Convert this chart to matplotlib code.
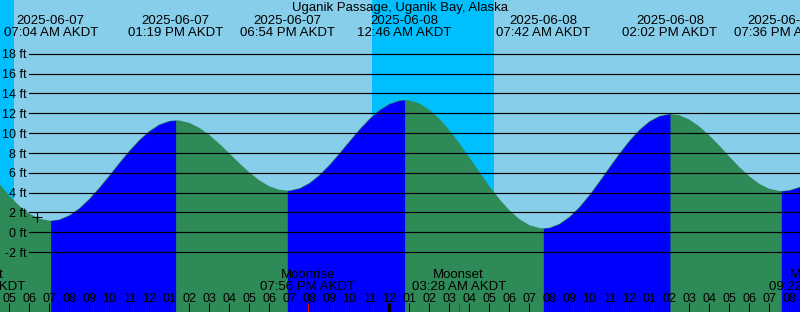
import numpy as np
import pandas as pd
import matplotlib
matplotlib.use("Agg")
import matplotlib.pyplot as plt
from matplotlib.transforms import blended_transform_factory, ScaledTranslation

# ---------------- data ----------------
title = "Uganik Passage, Uganik Bay, Alaska"
tz_name = "AKDT"

# tide heights (ft) read every 30 minutes starting 2025-06-07 04:30
sample_start = "2025-06-07 04:30"
sample_step_minutes = 30
heights = [4.90, 3.69, 2.67, 1.88, 1.37, 1.17, 1.29, 1.72, 2.43, 3.38, 4.51, 5.74, 7.01, 8.23, 9.32,
           10.22, 10.87, 11.23, 11.27, 11.03, 10.53, 9.82, 8.93, 7.96, 6.97, 6.04, 5.24, 4.64, 4.29,
           4.21, 4.43, 4.97, 5.78, 6.80, 7.96, 9.18, 10.37, 11.44, 12.33, 12.96, 13.29, 13.30, 12.99,
           12.36, 11.45, 10.30, 8.98, 7.55, 6.09, 4.67, 3.36, 2.23, 1.33, 0.72, 0.43, 0.46, 0.85, 1.56,
           2.55, 3.76, 5.12, 6.55, 7.95, 9.24, 10.34, 11.19, 11.73, 11.93, 11.80, 11.37, 10.67, 9.77,
           8.74, 7.64, 6.58, 5.64, 4.88, 4.38, 4.17, 4.24, 4.56, 5.11]

extreme_times = ["2025-06-07 07:04", "2025-06-07 13:19", "2025-06-07 18:54", "2025-06-08 00:46",
                 "2025-06-08 07:42", "2025-06-08 14:02", "2025-06-08 19:36"]
extreme_heights = [1.17, 11.29, 4.20, 13.34, 0.40, 11.93, 4.16]

night_starts = ["2025-06-06 23:07", "2025-06-07 23:09"]
night_ends = ["2025-06-07 05:14", "2025-06-08 05:13"]

moon_events = ["Moonset", "Moonrise", "Moonset", "Moonrise"]
moon_times = ["2025-06-07 03:27", "2025-06-07 19:56", "2025-06-08 03:28", "2025-06-08 21:22"]

now_time = "2025-06-07 06:23"
now_height = 1.57

y_ticks = [-2, 0, 2, 4, 6, 8, 10, 12, 14, 16, 18]

# ---------------- helpers ----------------
base = pd.Timestamp("2025-06-07 00:00")


def hrs(ts):
    return (pd.Timestamp(ts) - base) / pd.Timedelta(hours=1)


W, H = 800, 312
fig = plt.figure(figsize=(W / 100, H / 100), dpi=100)
ax = fig.add_axes([0, 0, 1, 1])
ax.set_axis_off()

x_left = 4.535
x_right = x_left + 40.0
y_bottom, y_top = -8.04, 23.42
ax.set_xlim(x_left, x_right)
ax.set_ylim(y_bottom, y_top)

SKY = "#87CEEB"
NIGHT = "#00BFFF"
FLOOD = "#0000FF"
EBB = "#2E8B57"

ax.add_patch(plt.Rectangle((0, 0), 1, 1, transform=ax.transAxes, color=SKY, zorder=0))
for s, e in zip(night_starts, night_ends):
    ax.axvspan(hrs(s), hrs(e), color=NIGHT, lw=0, zorder=0.5)

# curve
sample_t = pd.date_range(sample_start, periods=len(heights), freq=f"{sample_step_minutes}min")
sx = np.array([hrs(t) for t in sample_t])
ex = np.array([hrs(t) for t in extreme_times])
allx = np.concatenate([sx, ex])
ally = np.concatenate([np.array(heights), np.array(extreme_heights)])
order = np.argsort(allx)
cx, cy = allx[order], ally[order]

ax.fill_between(cx, cy, y_bottom, color=EBB, lw=0, zorder=1)
bounds_x = [cx[0]] + list(ex) + [cx[-1]]
bounds_y = [cy[0]] + list(extreme_heights) + [cy[-1]]
for i in range(len(bounds_x) - 1):
    if bounds_y[i + 1] > bounds_y[i]:
        m = (cx >= bounds_x[i] - 1e-9) & (cx <= bounds_x[i + 1] + 1e-9)
        ax.fill_between(cx[m], cy[m], y_bottom, color=FLOOD, lw=0, zorder=1.1)

# grid lines + labels
FONT = "Liberation Sans"
FS = 9.5
FS_Y = 9.0
FS_H = 9.0
ylab_tr = blended_transform_factory(ax.transAxes, ax.transData) + ScaledTranslation(0, -4.6 / 100, fig.dpi_scale_trans)
for yv in y_ticks:
    ax.axhline(yv, xmin=29 / W, xmax=1, color="black", lw=0.85, zorder=2)
    ax.text(26.5 / W, yv, f"{yv} ft", transform=ylab_tr, ha="right", va="baseline",
            fontsize=FS_Y, family=FONT, zorder=3)

xt = blended_transform_factory(ax.transData, ax.transAxes)


def ptext(x, py, s, fs=FS):
    ax.text(x, 1 - py / H, s, transform=xt, ha="center", va="baseline",
            fontsize=fs, family=FONT, zorder=3)


# title
ax.text(0.5, 1 - 11 / H, title, transform=ax.transAxes, ha="center", va="baseline",
        fontsize=FS, family=FONT, zorder=3)

# extremes labels
for t in extreme_times:
    ts = pd.Timestamp(t)
    ptext(hrs(ts), 24, ts.strftime("%Y-%m-%d"))
    ptext(hrs(ts), 36, ts.strftime("%I:%M %p ") + tz_name)

# hour ticks and labels
tick_top = 8.7 / H
hour_list = pd.date_range("2025-06-07 05:00", "2025-06-08 20:00", freq="1h")
for ht in hour_list:
    xv = hrs(ht)
    if ht.hour == 0:
        ax.vlines(xv, 0, tick_top, transform=xt, color="black", lw=2.2, zorder=3)
    else:
        ax.vlines(xv, 0, tick_top, transform=xt, color="black", lw=0.75, zorder=3)
    ptext(xv, 302, ht.strftime("%I"), fs=FS_H)

# moon events
for name, t in zip(moon_events, moon_times):
    ts = pd.Timestamp(t)
    xv = hrs(ts)
    ax.vlines(xv, 0, tick_top, transform=xt, color="red", lw=0.75, zorder=3.1)
    ptext(xv, 278.5, name)
    ptext(xv, 289.5, ts.strftime("%I:%M %p ") + tz_name)

# current time mark
ax.plot([hrs(now_time)], [now_height], marker="+", ms=6.5, mew=0.8, color="black", zorder=3)

fig.savefig("out.png", dpi=100)
